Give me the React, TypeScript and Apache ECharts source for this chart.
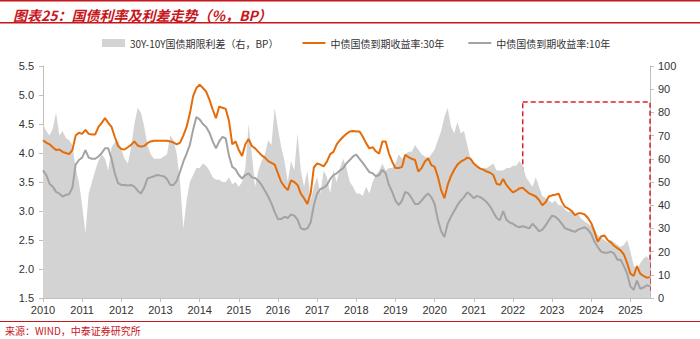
import React, { useEffect, useRef } from 'react';
import * as echarts from 'echarts';

// Monthly readings, Jan 2010 .. Jul 2025
const y30: number[] = [
  4.22, 4.18, 4.15, 4.10, 4.05, 4.06, 4.02, 4.00, 3.98, 4.05, 4.30, 4.35,
  4.33, 4.40, 4.33, 4.32, 4.32, 4.45, 4.52, 4.60, 4.52, 4.45, 4.28, 4.12,
  4.07, 4.06, 4.10, 4.14, 4.20, 4.13, 4.11, 4.12, 4.17, 4.20, 4.21, 4.21,
  4.21, 4.21, 4.21, 4.20, 4.18, 4.15, 4.18, 4.30, 4.45, 4.68, 4.98, 5.12,
  5.18, 5.12, 5.06, 4.92, 4.75, 4.60, 4.80, 4.78, 4.76, 4.55, 4.15, 4.20,
  4.05, 3.95, 4.15, 4.24, 4.12, 4.08, 4.02, 3.96, 3.92, 3.86, 3.83, 3.80,
  3.65, 3.50, 3.42, 3.36, 3.53, 3.50, 3.45, 3.30, 3.22, 3.12, 3.30, 3.75,
  3.82, 3.80, 3.77, 3.85, 3.98, 4.02, 4.15, 4.22, 4.28, 4.33, 4.37, 4.38,
  4.37, 4.37, 4.28, 4.17, 4.08, 4.10, 4.03, 3.99, 4.20, 4.20, 3.99, 3.85,
  3.74, 3.74, 3.76, 3.97, 3.93, 3.90, 3.88, 3.68, 3.74, 3.85, 3.91, 3.79,
  3.76, 3.59, 3.36, 3.22, 3.45, 3.60, 3.71, 3.80, 3.85, 3.88, 3.92, 3.90,
  3.82, 3.77, 3.73, 3.71, 3.68, 3.66, 3.62, 3.47, 3.45, 3.55, 3.45, 3.38,
  3.32, 3.35, 3.39, 3.40, 3.35, 3.30, 3.28, 3.25, 3.19, 3.10, 3.15, 3.25,
  3.27, 3.28, 3.30, 3.16, 3.07, 3.04, 3.00, 2.93, 2.96, 2.96, 2.94, 2.88,
  2.79, 2.64, 2.47, 2.56, 2.58, 2.50, 2.46, 2.40, 2.36, 2.32, 2.25, 2.10,
  1.92, 1.88, 2.05, 1.92, 1.88, 1.85, 1.86,
];

const y10: number[] = [
  3.70, 3.62, 3.47, 3.42, 3.33, 3.30, 3.25, 3.28, 3.29, 3.40, 3.80, 3.88,
  3.92, 4.05, 3.92, 3.90, 3.90, 3.94, 4.00, 4.08, 4.08, 3.90, 3.65, 3.48,
  3.45, 3.45, 3.44, 3.45, 3.42, 3.35, 3.30, 3.40, 3.56, 3.58, 3.60, 3.62,
  3.61, 3.60, 3.55, 3.45, 3.45, 3.52, 3.68, 3.85, 3.99, 4.14, 4.40, 4.62,
  4.58, 4.50, 4.45, 4.35, 4.20, 4.08, 4.20, 4.28, 4.25, 3.95, 3.76, 3.72,
  3.62, 3.56, 3.62, 3.65, 3.58, 3.57, 3.52, 3.45, 3.35, 3.25, 3.13, 2.98,
  2.86, 2.86, 2.90, 2.88, 2.94, 2.92, 2.85, 2.70, 2.68, 2.70, 2.80, 3.10,
  3.30, 3.38, 3.40, 3.45, 3.55, 3.62, 3.65, 3.70, 3.74, 3.82, 3.88, 3.94,
  3.97, 3.90, 3.83, 3.75, 3.67, 3.65, 3.60, 3.62, 3.71, 3.65, 3.45, 3.33,
  3.18, 3.10, 3.18, 3.33, 3.30, 3.22, 3.12, 3.12, 3.18, 3.25, 3.30, 3.24,
  3.12, 2.85, 2.65, 2.55, 2.78, 2.90, 3.00, 3.10, 3.18, 3.24, 3.32, 3.28,
  3.22, 3.26, 3.24, 3.20, 3.15, 3.08, 2.98, 2.88, 2.84, 3.00, 2.85, 2.80,
  2.78, 2.74, 2.72, 2.74, 2.72, 2.70, 2.78, 2.72, 2.65, 2.68, 2.75, 2.84,
  2.92, 2.90, 2.85, 2.78, 2.70, 2.68, 2.66, 2.64, 2.68, 2.70, 2.72, 2.68,
  2.60, 2.47, 2.38, 2.30, 2.28, 2.28, 2.30, 2.27, 2.16, 2.16, 2.05, 1.92,
  1.70, 1.64, 1.80, 1.66, 1.68, 1.72, 1.70,
];

const spread: number[] = [
  75, 72, 70, 73, 80, 70, 72, 69, 68, 66, 56, 50,
  40, 28, 45, 50, 55, 59, 62, 60, 55, 65, 67, 68,
  64, 60, 58, 65, 75, 82, 80, 74, 66, 62, 60, 60,
  60, 61, 62, 70, 68, 62, 50, 30, 42, 50, 53, 56,
  56, 58, 57, 55, 52, 51, 51, 50, 50, 52, 49, 50,
  48, 50, 56, 75, 62, 48, 55, 59, 62, 68, 66, 82,
  73, 65, 59, 50, 59, 55, 71, 55, 48, 55, 42, 48,
  52, 45, 55, 52, 45, 55, 50, 56, 60, 56, 50, 48,
  45, 45, 44, 48, 45, 50, 53, 55, 58, 55, 56, 56,
  58, 62, 60, 62, 63, 63, 66, 64, 62, 61, 60, 62,
  64, 68, 72, 78, 82, 74, 71, 76, 71, 72, 66, 60,
  58, 57, 56, 56, 56, 57, 58, 55, 55, 55, 56, 56,
  57, 57, 59, 57, 52, 50, 48, 52, 48, 44, 43, 42,
  41, 42, 40, 40, 38, 37, 38, 36, 36, 34, 33, 32,
  31, 30, 27, 26, 25, 24, 25, 24, 23, 22, 23, 25,
  20, 14, 12, 15, 17, 18, 16,
];

const START_YEAR = 2010;
const months: string[] = y30.map((_, i) => {
  const y = START_YEAR + Math.floor(i / 12);
  const m = (i % 12) + 1;
  return `${y}-${m < 10 ? '0' + m : m}`;
});

// highlighted box
const BOX_START = '2022-04';
const BOX_END = '2025-07';
const BOX_TOP = 4.88;
const BOX_BOTTOM = 1.64;

const NAME_SPREAD = '30Y-10Y国债期限利差（右，BP）';
const NAME_30 = '中债国债到期收益率:30年';
const NAME_10 = '中债国债到期收益率:10年';

const RED = '#c8161d';
const ORANGE = '#e46c0a';
const GRAY_LINE = '#a3a3a3';
const AREA = '#d3d3d3';
const LATIN = 'Arial, "Liberation Sans", Helvetica, sans-serif';
const CJK = '"Noto Sans CJK SC", "Liberation Sans", sans-serif';

export default function App() {
  const ref = useRef<HTMLDivElement>(null);
  useEffect(() => {
    if (!ref.current) return;
    const chart = echarts.init(ref.current, undefined, { renderer: 'svg' });
    const yearIdx = (i: number) => i % 12 === 0;
    chart.setOption({
      animation: false,
      backgroundColor: '#ffffff',
      title: {
        text: '图表25：国债利率及利差走势（%，BP）',
        left: 8,
        top: 3,
        textStyle: { color: RED, fontSize: 14, fontWeight: 'bold', fontStyle: 'italic', fontFamily: CJK },
      },
      legend: {
        left: 97,
        top: 33,
        itemWidth: 23,
        itemHeight: 8,
        itemGap: 23,
        textStyle: { fontSize: 10, color: '#333', fontFamily: CJK },
        data: [
          { name: NAME_SPREAD, icon: 'rect' },
          { name: NAME_30, itemStyle: { opacity: 0 } },
          { name: NAME_10, itemStyle: { opacity: 0 } },
        ],
      },
      grid: { left: 43, right: 50, top: 66, bottom: 41 },
      xAxis: {
        type: 'category',
        data: months,
        boundaryGap: false,
        axisLine: { lineStyle: { color: '#bfbfbf' } },
        axisTick: { show: true, interval: yearIdx, length: 4, lineStyle: { color: '#bfbfbf' } },
        axisLabel: {
          interval: yearIdx,
          formatter: (v: string) => v.slice(0, 4),
          color: '#333',
          fontSize: 11,
          fontFamily: LATIN,
          margin: 6,
        },
        splitLine: { show: false },
      },
      yAxis: [
        {
          type: 'value',
          min: 1.5,
          max: 5.5,
          interval: 0.5,
          axisLine: { show: true, lineStyle: { color: '#bfbfbf' } },
          axisTick: { show: true, length: 4, lineStyle: { color: '#bfbfbf' } },
          axisLabel: { formatter: (v: number) => v.toFixed(1), color: '#333', fontSize: 11, fontFamily: LATIN, margin: 9 },
          splitLine: { show: false },
        },
        {
          type: 'value',
          min: 0,
          max: 100,
          interval: 10,
          position: 'right',
          axisLine: { show: true, lineStyle: { color: '#bfbfbf' } },
          axisTick: { show: true, length: 4, lineStyle: { color: '#bfbfbf' } },
          axisLabel: { color: '#333', fontSize: 11, fontFamily: LATIN, margin: 8 },
          splitLine: { show: false },
        },
      ],
      series: [
        {
          name: NAME_SPREAD,
          type: 'line',
          yAxisIndex: 1,
          data: spread,
          symbol: 'none',
          lineStyle: { width: 0, color: AREA },
          itemStyle: { color: AREA },
          areaStyle: { color: AREA, opacity: 1 },
          z: 1,
        },
        {
          name: NAME_10,
          type: 'line',
          yAxisIndex: 0,
          data: y10,
          symbol: 'none',
          lineStyle: { width: 2, color: GRAY_LINE },
          itemStyle: { color: GRAY_LINE },
          z: 2,
        },
        {
          name: NAME_30,
          type: 'line',
          yAxisIndex: 0,
          data: y30,
          symbol: 'none',
          lineStyle: { width: 2, color: ORANGE },
          itemStyle: { color: ORANGE },
          z: 3,
          markArea: {
            silent: true,
            itemStyle: { color: 'rgba(0,0,0,0)', borderColor: '#d6202a', borderWidth: 1.5, borderType: [5, 3] },
            data: [[{ xAxis: BOX_START, yAxis: BOX_TOP }, { xAxis: BOX_END, yAxis: BOX_BOTTOM }]],
          },
        },
      ],
      graphic: [
        { type: 'rect', left: 0, top: 0, shape: { width: 700, height: 1.5 }, style: { fill: RED } },
        { type: 'rect', left: 0, top: 22, shape: { width: 700, height: 1.5 }, style: { fill: RED } },
        { type: 'rect', left: 0, top: 321, shape: { width: 700, height: 1 }, style: { fill: RED } },
        {
          type: 'text',
          left: 5,
          top: 325,
          style: { text: '来源：WIND，中泰证券研究所', fill: RED, fontSize: 10, fontFamily: CJK },
        },
      ],
    });
    return () => chart.dispose();
  }, []);
  return (
    <div
      ref={ref}
      style={{ position: 'fixed', left: 0, top: 0, width: 700, height: 339, background: '#fff' }}
    />
  );
}
